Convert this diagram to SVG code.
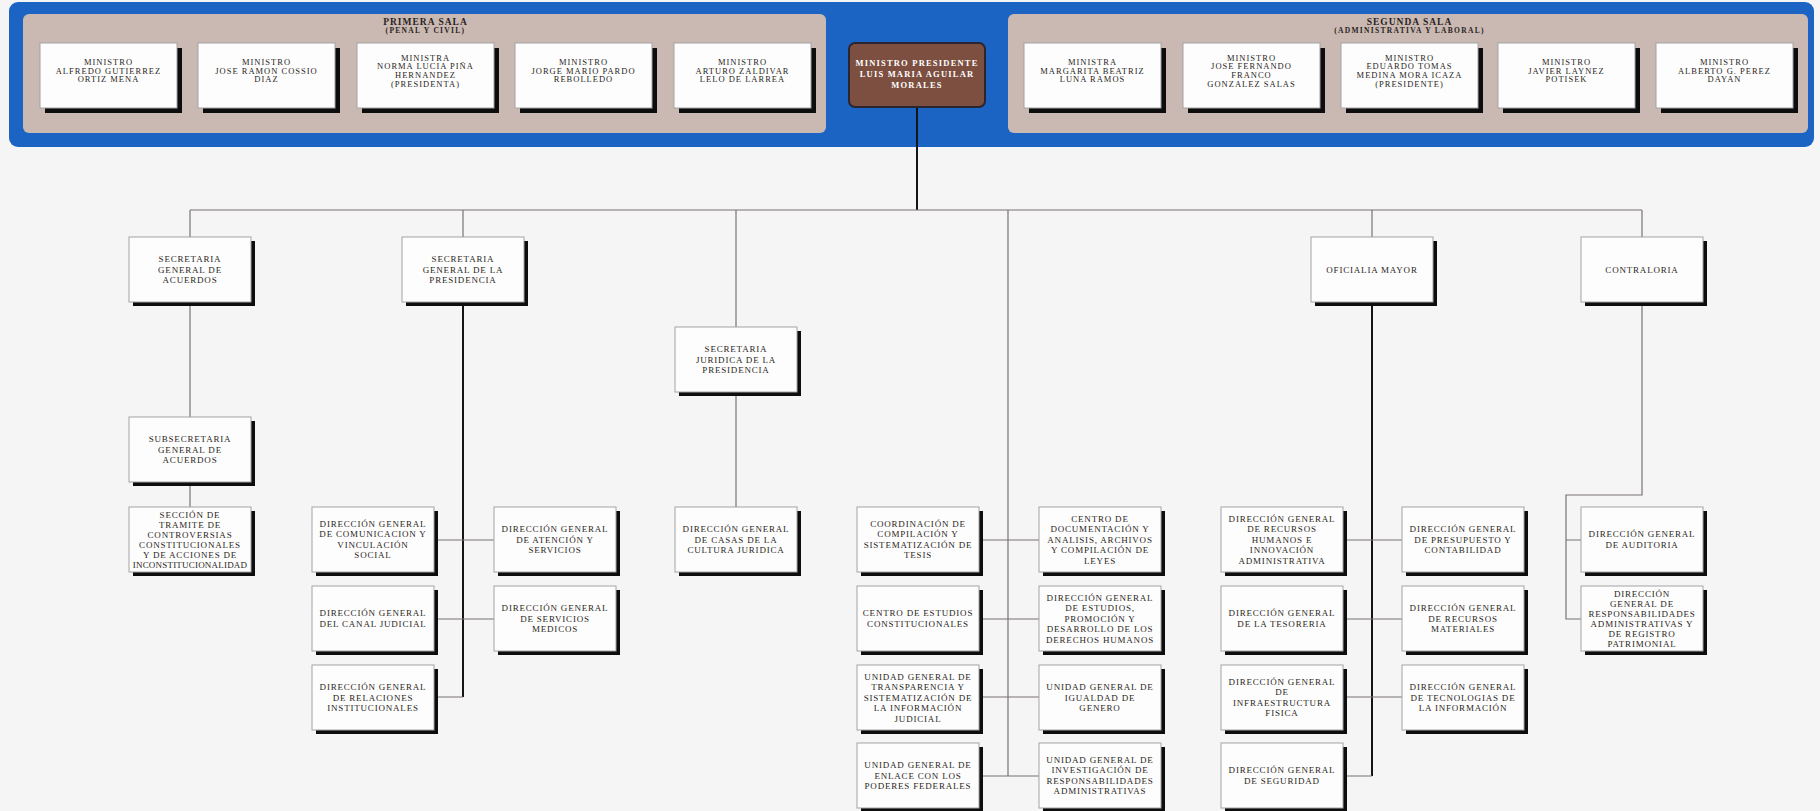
<svg xmlns="http://www.w3.org/2000/svg" width="1820" height="811" viewBox="0 0 1820 811">
<defs>
<style>
.bg{fill:#f5f5f5}
.blue{fill:#1b64c4}
.tan{fill:#c9b9b2}
.sh{fill:#0d0d0d}
.bx{fill:#fdfdfd;stroke:#a3a3a3;stroke-width:1}
.t{font-family:"Liberation Serif","Times New Roman",serif;font-size:9px;letter-spacing:0.8px;fill:#2a1f22;text-anchor:middle}
.tm{font-family:"Liberation Serif","Times New Roman",serif;font-size:8.5px;letter-spacing:1px;fill:#2a1f22;text-anchor:middle}
.ttl{font-family:"Liberation Serif","Times New Roman",serif;font-weight:bold;fill:#2a1f22;text-anchor:middle}
.pres{font-family:"Liberation Serif","Times New Roman",serif;font-weight:bold;font-size:8.5px;letter-spacing:1.2px;fill:#ffffff;text-anchor:middle}
.c{stroke:#7a7273;stroke-width:1.2;fill:none}
.ck{stroke:#151515;stroke-width:2;fill:none}
</style>
</defs>
<rect class="bg" x="0" y="0" width="1820" height="811"/>

<g id="frame">
<rect class="blue" x="9" y="2" width="1805" height="145" rx="9"/>
<rect class="tan" x="23" y="14" width="803" height="119" rx="6"/>
<rect class="tan" x="1008" y="14" width="800" height="119" rx="6"/>
<text class="ttl" x="425.5" y="25" font-size="9.5" letter-spacing="1">PRIMERA SALA</text>
<text class="ttl" x="425.5" y="33" font-size="7.5" letter-spacing="1.3">(PENAL Y CIVIL)</text>
<text class="ttl" x="1409.5" y="25" font-size="9.5" letter-spacing="1">SEGUNDA SALA</text>
<text class="ttl" x="1409.5" y="33" font-size="7.5" letter-spacing="1.3">(ADMINISTRATIVA Y LABORAL)</text>
</g>

<g id="connectors">
<path class="ck" d="M917 107V210"/>
<path class="c" d="M190 210H1642"/>
<path class="c" d="M190 210V507"/>
<path class="c" d="M463 210V237"/>
<path class="ck" d="M463 302V697"/>
<path class="c" d="M434 540H494M434 619H494M434 697H463"/>
<path class="c" d="M736 210V507"/>
<path class="c" d="M1008 210V776M979 540H1039M979 619H1039M979 697H1039M979 776H1039"/>
<path class="c" d="M1372 210V237"/>
<path class="ck" d="M1372 302V776"/>
<path class="c" d="M1343 540H1402M1343 619H1402M1343 697H1402M1343 776H1372"/>
<path class="c" d="M1642 210V495H1566V619H1581M1566 540H1581"/>
</g>

<!-- Primera Sala -->
<g id="min-gutierrez"><rect class="sh" x="45" y="48" width="137" height="65"/><rect class="bx" x="40" y="43" width="137" height="65"/>
<text class="tm" x="108.5" y="64.8">MINISTRO<tspan x="108.5" dy="8.7">ALFREDO GUTIERREZ</tspan><tspan x="108.5" dy="8.7">ORTIZ MENA</tspan></text></g>
<g id="min-cossio"><rect class="sh" x="203" y="48" width="137" height="65"/><rect class="bx" x="198" y="43" width="137" height="65"/>
<text class="tm" x="266.5" y="64.8">MINISTRO<tspan x="266.5" dy="8.7">JOSE RAMON COSSIO</tspan><tspan x="266.5" dy="8.7">DIAZ</tspan></text></g>
<g id="min-pina"><rect class="sh" x="362" y="48" width="137" height="65"/><rect class="bx" x="357" y="43" width="137" height="65"/>
<text class="tm" x="425.5" y="60.5">MINISTRA<tspan x="425.5" dy="8.7">NORMA LUCIA PIÑA</tspan><tspan x="425.5" dy="8.7">HERNANDEZ</tspan><tspan x="425.5" dy="8.7">(PRESIDENTA)</tspan></text></g>
<g id="min-pardo"><rect class="sh" x="520" y="48" width="137" height="65"/><rect class="bx" x="515" y="43" width="137" height="65"/>
<text class="tm" x="583.5" y="64.8">MINISTRO<tspan x="583.5" dy="8.7">JORGE MARIO PARDO</tspan><tspan x="583.5" dy="8.7">REBOLLEDO</tspan></text></g>
<g id="min-zaldivar"><rect class="sh" x="679" y="48" width="137" height="65"/><rect class="bx" x="674" y="43" width="137" height="65"/>
<text class="tm" x="742.5" y="64.8">MINISTRO<tspan x="742.5" dy="8.7">ARTURO ZALDIVAR</tspan><tspan x="742.5" dy="8.7">LELO DE LARREA</tspan></text></g>

<!-- Presidente -->
<g id="min-presidente"><rect x="849" y="43" width="136" height="64" rx="6" fill="#7d4f40" stroke="#2b2530" stroke-width="2"/>
<text class="pres" x="917" y="66">MINISTRO PRESIDENTE<tspan x="917" dy="11">LUIS MARIA AGUILAR</tspan><tspan x="917" dy="11">MORALES</tspan></text></g>

<!-- Segunda Sala -->
<g id="min-luna"><rect class="sh" x="1029" y="48" width="137" height="65"/><rect class="bx" x="1024" y="43" width="137" height="65"/>
<text class="tm" x="1092.5" y="64.8">MINISTRA<tspan x="1092.5" dy="8.7">MARGARITA BEATRIZ</tspan><tspan x="1092.5" dy="8.7">LUNA RAMOS</tspan></text></g>
<g id="min-franco"><rect class="sh" x="1188" y="48" width="137" height="65"/><rect class="bx" x="1183" y="43" width="137" height="65"/>
<text class="tm" x="1251.5" y="60.5">MINISTRO<tspan x="1251.5" dy="8.7">JOSE FERNANDO</tspan><tspan x="1251.5" dy="8.7">FRANCO</tspan><tspan x="1251.5" dy="8.7">GONZALEZ SALAS</tspan></text></g>
<g id="min-medina"><rect class="sh" x="1346" y="48" width="137" height="65"/><rect class="bx" x="1341" y="43" width="137" height="65"/>
<text class="tm" x="1409.5" y="60.5">MINISTRO<tspan x="1409.5" dy="8.7">EDUARDO TOMAS</tspan><tspan x="1409.5" dy="8.7">MEDINA MORA ICAZA</tspan><tspan x="1409.5" dy="8.7">(PRESIDENTE)</tspan></text></g>
<g id="min-laynez"><rect class="sh" x="1503" y="48" width="137" height="65"/><rect class="bx" x="1498" y="43" width="137" height="65"/>
<text class="tm" x="1566.5" y="64.8">MINISTRO<tspan x="1566.5" dy="8.7">JAVIER LAYNEZ</tspan><tspan x="1566.5" dy="8.7">POTISEK</tspan></text></g>
<g id="min-perez"><rect class="sh" x="1661" y="48" width="137" height="65"/><rect class="bx" x="1656" y="43" width="137" height="65"/>
<text class="tm" x="1724.5" y="64.8">MINISTRO<tspan x="1724.5" dy="8.7">ALBERTO G. PEREZ</tspan><tspan x="1724.5" dy="8.7">DAYAN</tspan></text></g>

<!-- Level 2 -->
<g id="sga"><rect class="sh" x="133" y="241" width="122" height="65"/><rect class="bx" x="129" y="237" width="122" height="65"/>
<text class="t" x="190" y="262.2">SECRETARIA<tspan x="190" dy="10.5">GENERAL DE</tspan><tspan x="190" dy="10.5">ACUERDOS</tspan></text></g>
<g id="sgp"><rect class="sh" x="406" y="241" width="122" height="65"/><rect class="bx" x="402" y="237" width="122" height="65"/>
<text class="t" x="463" y="262.2">SECRETARIA<tspan x="463" dy="10.5">GENERAL DE LA</tspan><tspan x="463" dy="10.5">PRESIDENCIA</tspan></text></g>
<g id="sjp"><rect class="sh" x="679" y="331" width="122" height="65"/><rect class="bx" x="675" y="327" width="122" height="65"/>
<text class="t" x="736" y="352.2">SECRETARIA<tspan x="736" dy="10.5">JURIDICA DE LA</tspan><tspan x="736" dy="10.5">PRESIDENCIA</tspan></text></g>
<g id="om"><rect class="sh" x="1315" y="241" width="122" height="65"/><rect class="bx" x="1311" y="237" width="122" height="65"/>
<text class="t" x="1372" y="272.7">OFICIALIA MAYOR</text></g>
<g id="contraloria"><rect class="sh" x="1585" y="241" width="122" height="65"/><rect class="bx" x="1581" y="237" width="122" height="65"/>
<text class="t" x="1642" y="272.7">CONTRALORIA</text></g>

<!-- SGA column -->
<g id="subsec"><rect class="sh" x="133" y="421" width="122" height="65"/><rect class="bx" x="129" y="417" width="122" height="65"/>
<text class="t" x="190" y="442.2">SUBSECRETARIA<tspan x="190" dy="10.5">GENERAL DE</tspan><tspan x="190" dy="10.5">ACUERDOS</tspan></text></g>
<g id="seccion"><rect class="sh" x="133" y="511" width="122" height="65"/><rect class="bx" x="129" y="507" width="122" height="65"/>
<text class="t" x="190" y="517.7">SECCIÓN DE<tspan x="190" dy="10">TRAMITE DE</tspan><tspan x="190" dy="10">CONTROVERSIAS</tspan><tspan x="190" dy="10">CONSTITUCIONALES</tspan><tspan x="190" dy="10">Y DE ACCIONES DE</tspan><tspan x="190" dy="10" style="letter-spacing:0.2px">INCONSTITUCIONALIDAD</tspan></text></g>

<!-- SGP column -->
<g id="dg-comunicacion"><rect class="sh" x="316" y="511" width="122" height="65"/><rect class="bx" x="312" y="507" width="122" height="65"/>
<text class="t" x="373" y="526.95">DIRECCIÓN GENERAL<tspan x="373" dy="10.5">DE COMUNICACION Y</tspan><tspan x="373" dy="10.5">VINCULACIÓN</tspan><tspan x="373" dy="10.5">SOCIAL</tspan></text></g>
<g id="dg-atencion"><rect class="sh" x="498" y="511" width="122" height="65"/><rect class="bx" x="494" y="507" width="122" height="65"/>
<text class="t" x="555" y="532.2">DIRECCIÓN GENERAL<tspan x="555" dy="10.5">DE ATENCIÓN Y</tspan><tspan x="555" dy="10.5">SERVICIOS</tspan></text></g>
<g id="dg-canal"><rect class="sh" x="316" y="590" width="122" height="65"/><rect class="bx" x="312" y="586" width="122" height="65"/>
<text class="t" x="373" y="616.45">DIRECCIÓN GENERAL<tspan x="373" dy="10.5">DEL CANAL JUDICIAL</tspan></text></g>
<g id="dg-medicos"><rect class="sh" x="498" y="590" width="122" height="65"/><rect class="bx" x="494" y="586" width="122" height="65"/>
<text class="t" x="555" y="611.2">DIRECCIÓN GENERAL<tspan x="555" dy="10.5">DE SERVICIOS</tspan><tspan x="555" dy="10.5">MEDICOS</tspan></text></g>
<g id="dg-relaciones"><rect class="sh" x="316" y="669" width="122" height="65"/><rect class="bx" x="312" y="665" width="122" height="65"/>
<text class="t" x="373" y="690.2">DIRECCIÓN GENERAL<tspan x="373" dy="10.5">DE RELACIONES</tspan><tspan x="373" dy="10.5">INSTITUCIONALES</tspan></text></g>

<!-- SJP column -->
<g id="dg-casas"><rect class="sh" x="679" y="511" width="122" height="65"/><rect class="bx" x="675" y="507" width="122" height="65"/>
<text class="t" x="736" y="532.2">DIRECCIÓN GENERAL<tspan x="736" dy="10.5">DE CASAS DE LA</tspan><tspan x="736" dy="10.5">CULTURA JURIDICA</tspan></text></g>

<!-- Central column -->
<g id="coord-tesis"><rect class="sh" x="861" y="511" width="122" height="65"/><rect class="bx" x="857" y="507" width="122" height="65"/>
<text class="t" x="918" y="526.95">COORDINACIÓN DE<tspan x="918" dy="10.5">COMPILACIÓN Y</tspan><tspan x="918" dy="10.5">SISTEMATIZACIÓN DE</tspan><tspan x="918" dy="10.5">TESIS</tspan></text></g>
<g id="centro-doc"><rect class="sh" x="1043" y="511" width="122" height="65"/><rect class="bx" x="1039" y="507" width="122" height="65"/>
<text class="t" x="1100" y="521.7">CENTRO DE<tspan x="1100" dy="10.5">DOCUMENTACIÓN Y</tspan><tspan x="1100" dy="10.5">ANALISIS, ARCHIVOS</tspan><tspan x="1100" dy="10.5">Y COMPILACIÓN DE</tspan><tspan x="1100" dy="10.5">LEYES</tspan></text></g>
<g id="centro-estudios"><rect class="sh" x="861" y="590" width="122" height="65"/><rect class="bx" x="857" y="586" width="122" height="65"/>
<text class="t" x="918" y="616.45">CENTRO DE ESTUDIOS<tspan x="918" dy="10.5">CONSTITUCIONALES</tspan></text></g>
<g id="dg-ddhh"><rect class="sh" x="1043" y="590" width="122" height="65"/><rect class="bx" x="1039" y="586" width="122" height="65"/>
<text class="t" x="1100" y="600.7">DIRECCIÓN GENERAL<tspan x="1100" dy="10.5">DE ESTUDIOS,</tspan><tspan x="1100" dy="10.5">PROMOCIÓN Y</tspan><tspan x="1100" dy="10.5">DESARROLLO DE LOS</tspan><tspan x="1100" dy="10.5">DERECHOS HUMANOS</tspan></text></g>
<g id="ug-transparencia"><rect class="sh" x="861" y="669" width="122" height="65"/><rect class="bx" x="857" y="665" width="122" height="65"/>
<text class="t" x="918" y="679.7">UNIDAD GENERAL DE<tspan x="918" dy="10.5">TRANSPARENCIA Y</tspan><tspan x="918" dy="10.5">SISTEMATIZACIÓN DE</tspan><tspan x="918" dy="10.5">LA INFORMACIÓN</tspan><tspan x="918" dy="10.5">JUDICIAL</tspan></text></g>
<g id="ug-igualdad"><rect class="sh" x="1043" y="669" width="122" height="65"/><rect class="bx" x="1039" y="665" width="122" height="65"/>
<text class="t" x="1100" y="690.2">UNIDAD GENERAL DE<tspan x="1100" dy="10.5">IGUALDAD DE</tspan><tspan x="1100" dy="10.5">GENERO</tspan></text></g>
<g id="ug-enlace"><rect class="sh" x="861" y="747" width="122" height="65"/><rect class="bx" x="857" y="743" width="122" height="65"/>
<text class="t" x="918" y="768.2">UNIDAD GENERAL DE<tspan x="918" dy="10.5">ENLACE CON LOS</tspan><tspan x="918" dy="10.5">PODERES FEDERALES</tspan></text></g>
<g id="ug-investigacion"><rect class="sh" x="1043" y="747" width="122" height="65"/><rect class="bx" x="1039" y="743" width="122" height="65"/>
<text class="t" x="1100" y="762.95">UNIDAD GENERAL DE<tspan x="1100" dy="10.5">INVESTIGACIÓN DE</tspan><tspan x="1100" dy="10.5">RESPONSABILIDADES</tspan><tspan x="1100" dy="10.5">ADMINISTRATIVAS</tspan></text></g>

<!-- Oficialia Mayor column -->
<g id="dg-rh"><rect class="sh" x="1225" y="511" width="122" height="65"/><rect class="bx" x="1221" y="507" width="122" height="65"/>
<text class="t" x="1282" y="521.7">DIRECCIÓN GENERAL<tspan x="1282" dy="10.5">DE RECURSOS</tspan><tspan x="1282" dy="10.5">HUMANOS E</tspan><tspan x="1282" dy="10.5">INNOVACIÓN</tspan><tspan x="1282" dy="10.5">ADMINISTRATIVA</tspan></text></g>
<g id="dg-presupuesto"><rect class="sh" x="1406" y="511" width="122" height="65"/><rect class="bx" x="1402" y="507" width="122" height="65"/>
<text class="t" x="1463" y="532.2">DIRECCIÓN GENERAL<tspan x="1463" dy="10.5">DE PRESUPUESTO Y</tspan><tspan x="1463" dy="10.5">CONTABILIDAD</tspan></text></g>
<g id="dg-tesoreria"><rect class="sh" x="1225" y="590" width="122" height="65"/><rect class="bx" x="1221" y="586" width="122" height="65"/>
<text class="t" x="1282" y="616.45">DIRECCIÓN GENERAL<tspan x="1282" dy="10.5">DE LA TESORERIA</tspan></text></g>
<g id="dg-materiales"><rect class="sh" x="1406" y="590" width="122" height="65"/><rect class="bx" x="1402" y="586" width="122" height="65"/>
<text class="t" x="1463" y="611.2">DIRECCIÓN GENERAL<tspan x="1463" dy="10.5">DE RECURSOS</tspan><tspan x="1463" dy="10.5">MATERIALES</tspan></text></g>
<g id="dg-infraestructura"><rect class="sh" x="1225" y="669" width="122" height="65"/><rect class="bx" x="1221" y="665" width="122" height="65"/>
<text class="t" x="1282" y="684.95">DIRECCIÓN GENERAL<tspan x="1282" dy="10.5">DE</tspan><tspan x="1282" dy="10.5">INFRAESTRUCTURA</tspan><tspan x="1282" dy="10.5">FISICA</tspan></text></g>
<g id="dg-tecnologias"><rect class="sh" x="1406" y="669" width="122" height="65"/><rect class="bx" x="1402" y="665" width="122" height="65"/>
<text class="t" x="1463" y="690.2">DIRECCIÓN GENERAL<tspan x="1463" dy="10.5">DE TECNOLOGIAS DE</tspan><tspan x="1463" dy="10.5">LA INFORMACIÓN</tspan></text></g>
<g id="dg-seguridad"><rect class="sh" x="1225" y="747" width="122" height="65"/><rect class="bx" x="1221" y="743" width="122" height="65"/>
<text class="t" x="1282" y="773.45">DIRECCIÓN GENERAL<tspan x="1282" dy="10.5">DE SEGURIDAD</tspan></text></g>

<!-- Contraloria column -->
<g id="dg-auditoria"><rect class="sh" x="1585" y="511" width="122" height="65"/><rect class="bx" x="1581" y="507" width="122" height="65"/>
<text class="t" x="1642" y="537.45">DIRECCIÓN GENERAL<tspan x="1642" dy="10.5">DE AUDITORIA</tspan></text></g>
<g id="dg-responsabilidades"><rect class="sh" x="1585" y="590" width="122" height="65"/><rect class="bx" x="1581" y="586" width="122" height="65"/>
<text class="t" x="1642" y="596.7">DIRECCIÓN<tspan x="1642" dy="10">GENERAL DE</tspan><tspan x="1642" dy="10">RESPONSABILIDADES</tspan><tspan x="1642" dy="10">ADMINISTRATIVAS Y</tspan><tspan x="1642" dy="10">DE REGISTRO</tspan><tspan x="1642" dy="10">PATRIMONIAL</tspan></text></g>
</svg>
